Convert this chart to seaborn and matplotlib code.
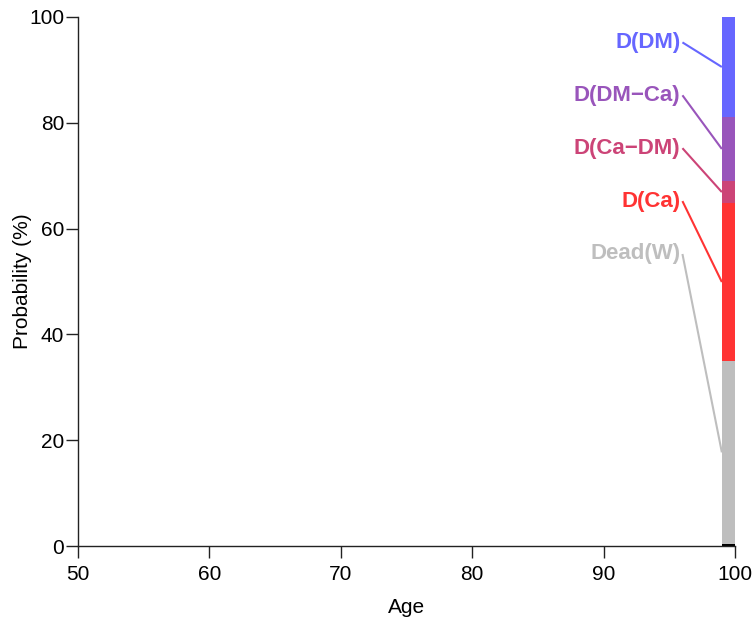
import numpy as np
import pandas as pd
import matplotlib
matplotlib.use("Agg")
import matplotlib.pyplot as plt
import seaborn as sns

# ---- data ----
states = ["D(DM)", "D(DM\u2212Ca)", "D(Ca\u2212DM)", "D(Ca)", "Dead(W)", "Alive"]
probs = [18.9, 12.1, 4.2, 29.8, 34.6, 0.4]   # % at last age
colors = ["#6666FF", "#9955BB", "#CC4477", "#FF3333", "#BEBEBE", "#000000"]
age_start = [99, 99, 99, 99, 99, 99]
labelled = ["D(DM)", "D(DM\u2212Ca)", "D(Ca\u2212DM)", "D(Ca)", "Dead(W)"]
x_ticks = [50, 60, 70, 80, 90, 100]
y_ticks = [0, 20, 40, 60, 80, 100]

df = pd.DataFrame({"state": states, "age": age_start, "prob": probs})

sns.set_style("white")
plt.rcParams["font.family"] = ["Liberation Sans", "DejaVu Sans"]
plt.rcParams["text.color"] = "black"
plt.rcParams["axes.labelcolor"] = "black"
plt.rcParams["xtick.color"] = "black"
plt.rcParams["ytick.color"] = "black"

fig = plt.figure(figsize=(7.53, 6.23), dpi=100)
ax = fig.add_axes([78/753, 1-546/623, (735-78)/753, (546-17)/623])

sns.histplot(data=df, x="age", weights="prob", hue="state", hue_order=states,
             palette=dict(zip(states, colors)), multiple="stack", bins=[99, 100],
             alpha=1, linewidth=0, legend=False, ax=ax)

# leader labels
cum = np.cumsum(probs[::-1])[::-1]  # top of each segment
for i, name in enumerate(labelled):
    top = cum[i]
    mid = top - probs[i] / 2
    ly = 95.2 - 10 * i
    ax.text(95.85, ly, name, color=colors[i], fontsize=16, fontweight="bold",
            ha="right", va="center")
    ax.plot([96.0, 99], [ly, mid], color=colors[i], lw=1.5, solid_capstyle="butt",
            clip_on=False)

ax.set_xlim(50, 100)
ax.set_ylim(0, 100)
ax.set_xticks(x_ticks)
ax.set_yticks(y_ticks)
ax.set_xlabel("Age", fontsize=15, labelpad=10)
ax.set_ylabel("Probability (%)", fontsize=15, labelpad=-2)
ax.tick_params(axis="both", labelsize=15, length=8.5, width=1, color="#222222",
               direction="out", bottom=True, left=True)
ax.tick_params(axis="x", pad=5)
ax.tick_params(axis="y", pad=1.5)
for s in ["top", "right"]:
    ax.spines[s].set_visible(False)
for s in ["left", "bottom"]:
    ax.spines[s].set_color("#222222")
    ax.spines[s].set_linewidth(1)

fig.savefig("out.png", dpi=100)
